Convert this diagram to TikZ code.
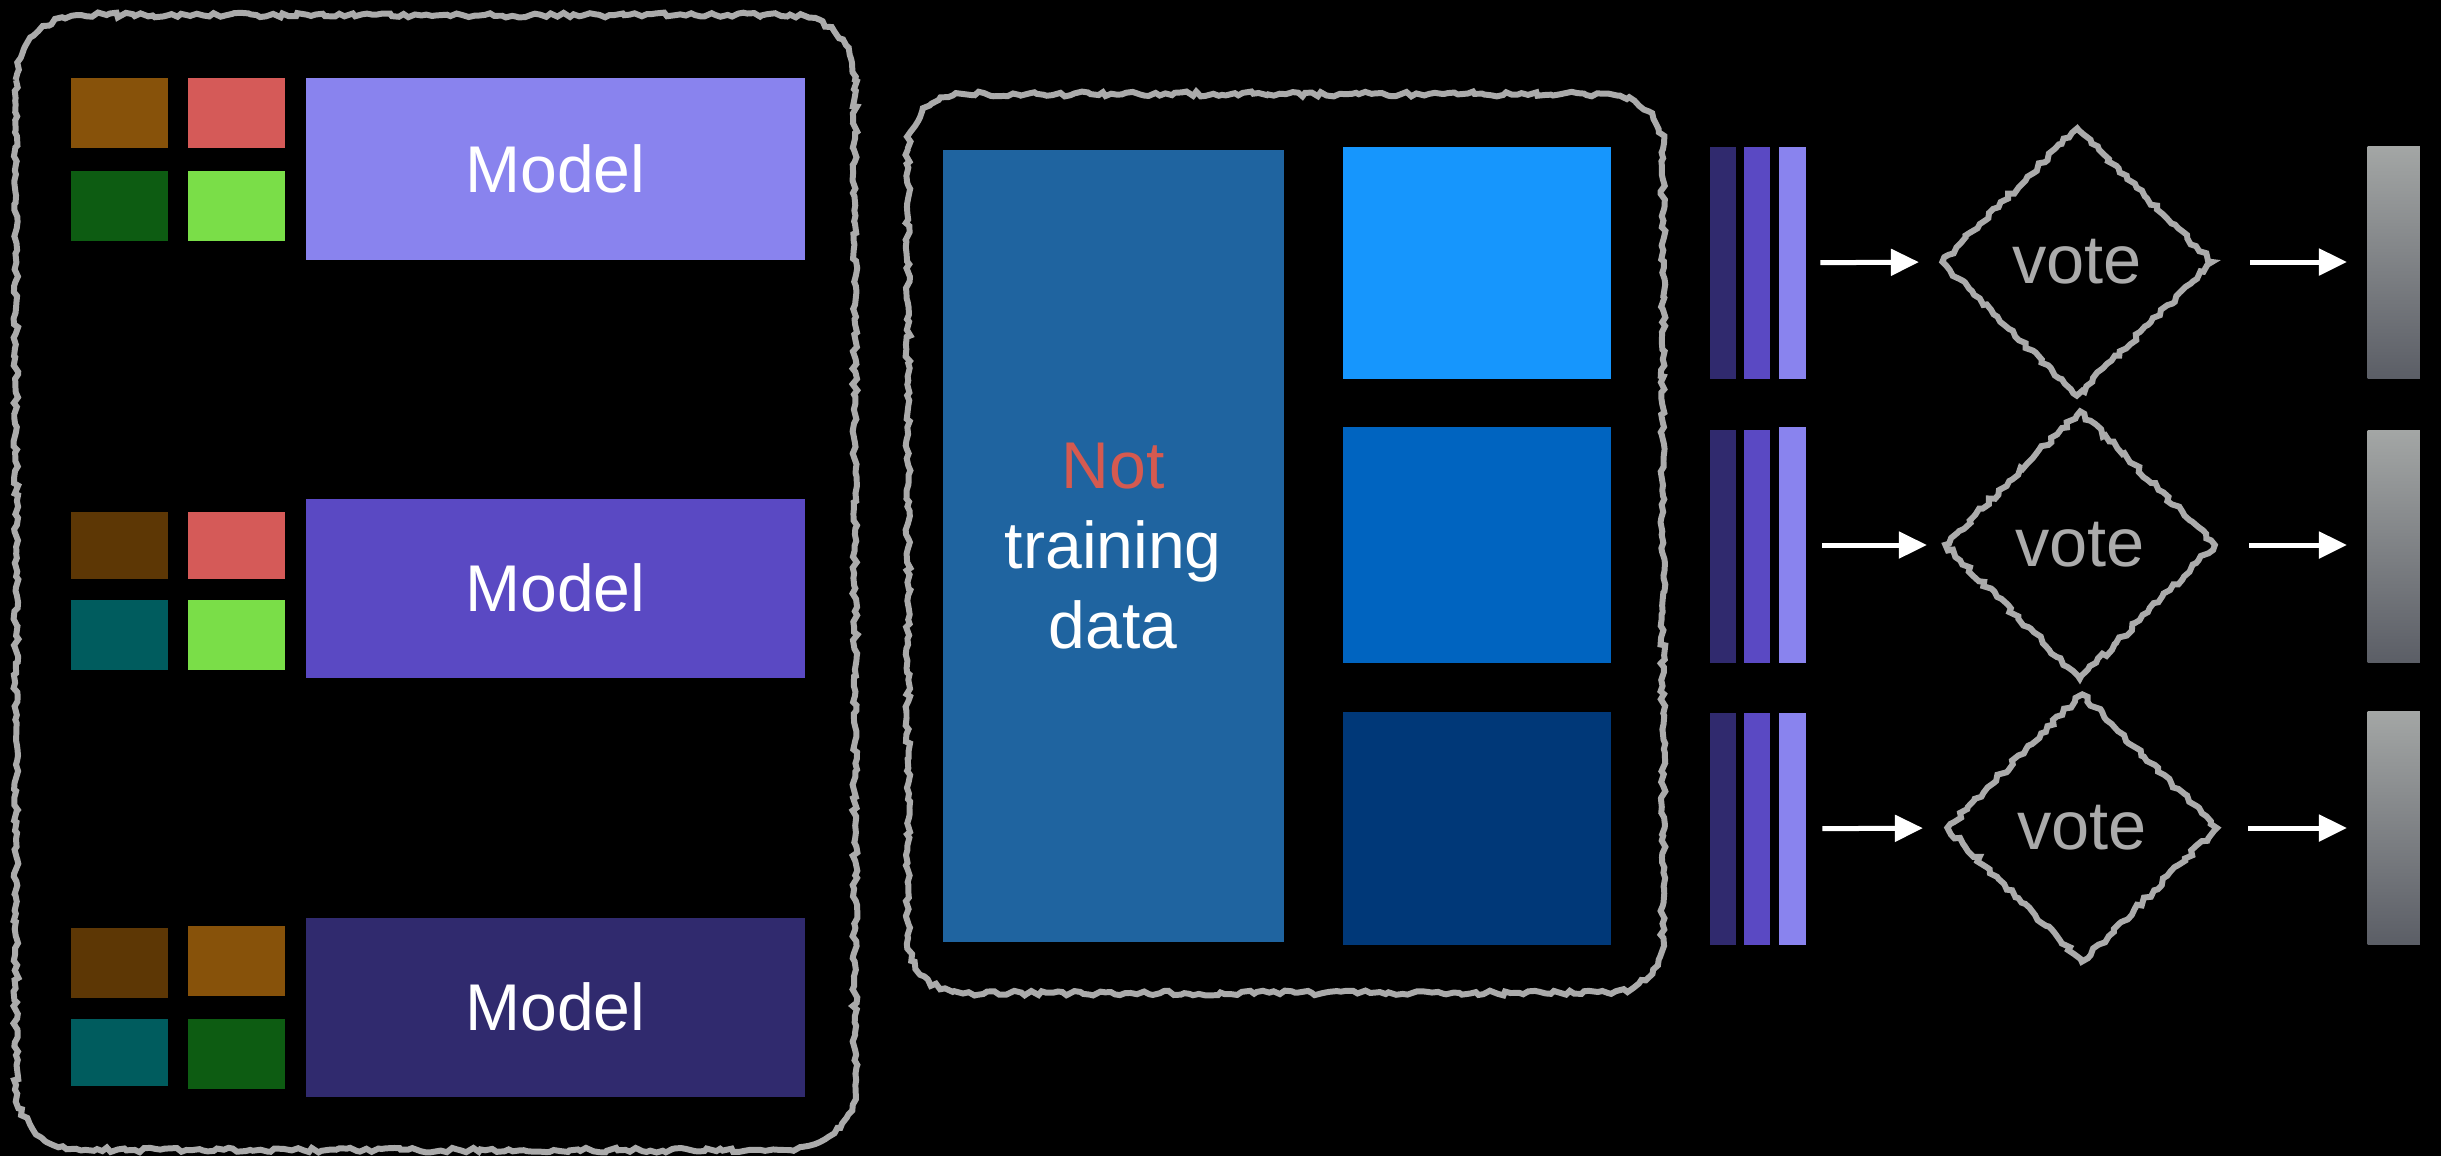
\documentclass[tikz,border=0pt]{standalone}
\usepackage{fontspec}
\setmainfont{Liberation Sans}
\usetikzlibrary{shapes.geometric,arrows.meta,positioning,decorations.pathmorphing}

\definecolor{modelA}{HTML}{8983EE}
\definecolor{modelB}{HTML}{5A49C3}
\definecolor{modelC}{HTML}{302A6E}
\definecolor{tileBrown}{HTML}{87520A}
\definecolor{tileDark}{HTML}{5D3705}
\definecolor{tileRed}{HTML}{D55A58}
\definecolor{tileGreen}{HTML}{0D5C12}
\definecolor{tileLime}{HTML}{7ADE48}
\definecolor{tileTeal}{HTML}{005C5E}
\definecolor{restBlue}{HTML}{1F64A0}
\definecolor{partA}{HTML}{1696FD}
\definecolor{partB}{HTML}{0064C0}
\definecolor{partC}{HTML}{003878}
\definecolor{notred}{HTML}{D55A50}
\definecolor{sketchgray}{HTML}{ABABAB}
\definecolor{outTop}{HTML}{A3A6A5}
\definecolor{outBot}{HTML}{5B5E66}

\begin{document}
\begin{tikzpicture}[
    x=0.01cm, y=-0.01cm,
    box/.style={rectangle, inner sep=0pt, anchor=north west},
    tile/.style={box, minimum width=0.97cm, minimum height=0.70cm},
    model/.style={box, minimum width=4.99cm, minimum height=1.79cm, text=white, font=\fontsize{18.8}{22.7}\selectfont},
    part/.style={box, minimum width=2.68cm, minimum height=2.32cm},
    bar/.style={box, minimum width=0.26cm, minimum height=2.32cm},
    outbar/.style={box, minimum width=0.52cm, minimum height=2.32cm, top color=outTop, bottom color=outBot},
    sketch/.style={draw=sketchgray, line width=1.7pt, decorate, decoration={random steps, segment length=1.5pt, amplitude=0.7pt}},
    frame/.style={rounded corners=#1, postaction={sketch, sharp corners}},
    vote/.style={diamond, sketch, inner sep=0pt, minimum width=2.72cm, minimum height=2.70cm, text=sketchgray, font=\fontsize{19.5}{23}\selectfont},
    arrow/.style={-{Triangle[length=0.28cm, width=0.26cm]}, line width=0.05cm, white}
]

\useasboundingbox (0,0) rectangle (2441,1156);
\fill[black] (0,0) rectangle (2441,1156);

% frames
\path[frame=0.65cm] (16,15) rectangle (855,1150);
\path[frame=0.55cm] (908,94) rectangle (1663,993);

% trained models
\node[tile, fill=tileBrown] (t11) at (70,77) {};
\node[tile, fill=tileRed] (t12) at (187,77) {};
\node[tile, fill=tileGreen] (t13) at (70,170) {};
\node[tile, fill=tileLime] (t14) at (187,170) {};
\node[model, fill=modelA, minimum height=1.82cm] (m1) at (305,77) {Model};

\node[tile, fill=tileDark, minimum height=0.67cm] (t21) at (70,511) {};
\node[tile, fill=tileRed, minimum height=0.67cm] (t22) at (187,511) {};
\node[tile, fill=tileTeal] (t23) at (70,599) {};
\node[tile, fill=tileLime] (t24) at (187,599) {};
\node[model, fill=modelB] (m2) at (305,498) {Model};

\node[tile, fill=tileDark] (t31) at (70,927) {};
\node[tile, fill=tileBrown] (t32) at (187,925) {};
\node[tile, fill=tileTeal, minimum height=0.67cm] (t33) at (70,1018) {};
\node[tile, fill=tileGreen] (t34) at (187,1018) {};
\node[model, fill=modelC] (m3) at (305,917) {Model};

% held-out data
\node[box, fill=restBlue, minimum width=3.41cm, minimum height=7.92cm, align=center, text=white,
      font=\fontsize{18.8}{22.7}\selectfont] (rest) at (942,149) {\textcolor{notred}{Not}\\training\\data};
\node[part, fill=partA] (pA) at (1342,146) {};
\node[part, fill=partB, minimum height=2.36cm] (pB) at (1342,426) {};
\node[part, fill=partC, minimum height=2.33cm] (pC) at (1342,711) {};

% predictions
\node[bar, fill=modelC] (b11) at (1709,146) {};
\node[bar, fill=modelB] (b12) at (1743,146) {};
\node[bar, fill=modelA, minimum width=0.27cm] (b13) at (1778,146) {};
\node[bar, fill=modelC, minimum height=2.33cm] (b21) at (1709,429) {};
\node[bar, fill=modelB, minimum height=2.33cm] (b22) at (1743,429) {};
\node[bar, fill=modelA, minimum width=0.27cm, minimum height=2.36cm] (b23) at (1778,426) {};
\node[bar, fill=modelC] (b31) at (1709,712) {};
\node[bar, fill=modelB] (b32) at (1743,712) {};
\node[bar, fill=modelA, minimum width=0.27cm] (b33) at (1778,712) {};

\node[vote] (v1) at (2077,262) {vote};
\node[vote] (v2) at (2080,545) {vote};
\node[vote] (v3) at (2082,828) {vote};

\node[outbar] (o1) at (2367,146) {};
\node[outbar] (o2) at (2367,430) {};
\node[outbar, minimum height=2.33cm] (o3) at (2367,711) {};

\draw[arrow, shorten <=0.14cm, shorten >=0.19cm] (b13.east) -- (v1.west);
\draw[arrow, shorten <=0.16cm, shorten >=0.14cm] (b23.east |- v2.west) -- (v2.west);
\draw[arrow, shorten <=0.16cm, shorten >=0.2cm] (b33.east) -- (v3.west);
\draw[arrow, shorten <=0.34cm, shorten >=0.2cm] (v1.east) -- (o1.west |- v1.east);
\draw[arrow, shorten <=0.3cm, shorten >=0.2cm] (v2.east) -- (o2.west |- v2.east);
\draw[arrow, shorten <=0.27cm, shorten >=0.2cm] (v3.east) -- (o3.west |- v3.east);

\end{tikzpicture}
\end{document}
